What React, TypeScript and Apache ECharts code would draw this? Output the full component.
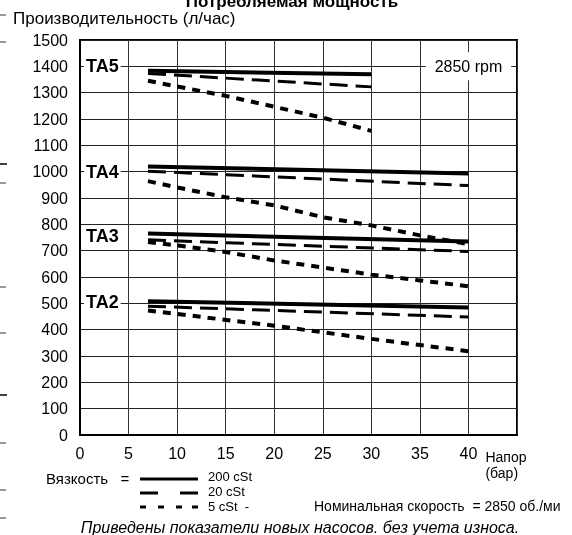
import React, { useEffect, useRef } from "react";
import * as echarts from "echarts";

// Head (bar) -> capacity (l/h) readings for each pump model and viscosity
const TA5_200 = [[7, 1383], [30, 1370]];
const TA5_20 = [[7, 1373], [30, 1322]];
const TA5_5 = [[7, 1345], [15, 1288], [25, 1205], [30, 1155]];
const TA4_200 = [[7, 1020], [40, 993]];
const TA4_20 = [[7, 1002], [40, 947]];
const TA4_5 = [[7, 964], [10, 940], [15, 903], [20, 872], [25, 827], [30, 796], [35, 758], [40, 725]];
const TA3_200 = [[7, 765], [40, 735]];
const TA3_20 = [[7, 741], [40, 697]];
const TA3_5 = [[7, 733], [10, 720], [15, 695], [20, 663], [25, 636], [30, 609], [35, 587], [40, 565]];
const TA2_200 = [[7, 508], [40, 484]];
const TA2_20 = [[7, 489], [40, 448]];
const TA2_5 = [[7, 473], [20, 415], [30, 365], [40, 318]];

const PUMP_NAMES = ["TA5", "TA4", "TA3", "TA2"];
const PUMP_LABEL_VALUES = [1400, 1000, 755, 505];
const VISCOSITIES = ["200 cSt", "20 cSt", "5 cSt"];
const X_MAX = 45;
const Y_MAX = 1500;

const TITLE = "Потребляемая мощность";
const Y_NAME = "Производительность (л/час)";
const X_NAME_1 = "Напор";
const X_NAME_2 = "(бар)";
const RPM_LABEL = "2850 rpm";
const VISC_LABEL = "Вязкость   =";
const NOMINAL = "Номинальная скорость  = 2850 об./ми";
const FOOTNOTE = "Приведены показатели новых насосов. без учета износа.";

const FONT = "Liberation Sans, Arial, Helvetica, sans-serif";

const STYLE_200 = { color: "#000", width: 4, type: "solid" as any };
const STYLE_20 = { color: "#000", width: 3, type: [18, 8] as any };
const STYLE_5 = { color: "#000", width: 4, type: [8, 7] as any };

function line(name: string, data: number[][], style: any) {
  return {
    name,
    type: "line",
    data,
    symbol: "none",
    lineStyle: style,
    z: 5,
    silent: true,
  };
}

export default function App() {
  const ref = useRef<HTMLDivElement>(null);
  useEffect(() => {
    if (!ref.current) return;
    const chart = echarts.init(ref.current, null, { renderer: "svg" });
    chart.setOption({
      animation: false,
      grid: {
        left: 80,
        right: 55,
        top: 40,
        bottom: 100,
        show: true,
        borderColor: "#000",
        borderWidth: 2,
      },
      xAxis: {
        type: "value",
        min: 0,
        max: X_MAX,
        interval: 5,
        axisLine: { show: true, lineStyle: { color: "#000", width: 2 } },
        axisTick: { show: false },
        splitLine: { show: true, lineStyle: { color: "#333", width: 1 } },
        axisLabel: {
          color: "#000",
          fontSize: 16,
          fontFamily: FONT,
          margin: 10,
          formatter: (v: number) => (v === X_MAX ? "" : String(v)),
        },
      },
      yAxis: {
        type: "value",
        min: 0,
        max: Y_MAX,
        interval: 100,
        axisLine: { show: true, lineStyle: { color: "#000", width: 2 } },
        axisTick: { show: false },
        splitLine: { show: true, lineStyle: { color: "#222", width: 1 } },
        axisLabel: {
          color: "#000",
          fontSize: 16,
          fontFamily: FONT,
          margin: 12,
          formatter: (v: number) => String(v),
        },
      },
      series: [
        line("TA5 " + VISCOSITIES[0], TA5_200, STYLE_200),
        line("TA5 " + VISCOSITIES[1], TA5_20, STYLE_20),
        line("TA5 " + VISCOSITIES[2], TA5_5, STYLE_5),
        line("TA4 " + VISCOSITIES[0], TA4_200, STYLE_200),
        line("TA4 " + VISCOSITIES[1], TA4_20, STYLE_20),
        line("TA4 " + VISCOSITIES[2], TA4_5, STYLE_5),
        line("TA3 " + VISCOSITIES[0], TA3_200, STYLE_200),
        line("TA3 " + VISCOSITIES[1], TA3_20, STYLE_20),
        line("TA3 " + VISCOSITIES[2], TA3_5, STYLE_5),
        line("TA2 " + VISCOSITIES[0], TA2_200, STYLE_200),
        line("TA2 " + VISCOSITIES[1], TA2_20, STYLE_20),
        line("TA2 " + VISCOSITIES[2], TA2_5, STYLE_5),
      ],
    });

    const graphics: any[] = [];
    PUMP_NAMES.forEach((n, i) => {
      const p = chart.convertToPixel({ gridIndex: 0 }, [0, PUMP_LABEL_VALUES[i]]) as number[];
      graphics.push({
        type: "text",
        x: p[0] + 4,
        y: p[1],
        z: 20,
        style: {
          text: n,
          font: `bold 18px ${FONT}`,
          fill: "#000",
          backgroundColor: "#fff",
          padding: [1, 2],
          align: "left",
          verticalAlign: "middle",
        },
      });
    });
    const rp = chart.convertToPixel({ gridIndex: 0 }, [40, 1400]) as number[];
    graphics.push({
      type: "text",
      x: rp[0],
      y: rp[1],
      z: 20,
      style: {
        text: RPM_LABEL,
        font: `16px ${FONT}`,
        fill: "#000",
        backgroundColor: "#fff",
        padding: [6, 9],
        align: "center",
        verticalAlign: "middle",
      },
    });
    const xEnd = chart.convertToPixel({ gridIndex: 0 }, [40, 0]) as number[];
    const txt = (text: string, x: number, y: number, font: string, align = "left", vAlign = "middle") => ({
      type: "text",
      x,
      y,
      z: 20,
      style: { text, font, fill: "#000", align, verticalAlign: vAlign },
    });
    graphics.push(txt(TITLE, 292, 10, `bold 17px ${FONT}`, "center", "bottom"));
    graphics.push(txt(Y_NAME, 13, 18, `17px ${FONT}`));
    graphics.push(txt(X_NAME_1, xEnd[0] + 17, 457, `14px ${FONT}`));
    graphics.push(txt(X_NAME_2, xEnd[0] + 17, 473, `14px ${FONT}`));
    graphics.push(txt(VISC_LABEL, 46, 478, `15px ${FONT}`));
    graphics.push(txt(VISCOSITIES[0], 208, 476, `13px ${FONT}`));
    graphics.push(txt(VISCOSITIES[1], 208, 491, `13px ${FONT}`));
    graphics.push(txt(VISCOSITIES[2] + "  -", 208, 506, `13px ${FONT}`));
    graphics.push(txt(NOMINAL, 314, 506, `14px ${FONT}`));
    graphics.push(txt(FOOTNOTE, 300, 527, `italic 16px ${FONT}`, "center"));

    const seg = (x1: number, y1: number, x2: number, y2: number, w: number, color = "#000") => ({
      type: "line",
      z: 20,
      shape: { x1, y1, x2, y2 },
      style: { stroke: color, lineWidth: w },
    });
    // legend samples
    graphics.push(seg(140, 479, 198, 479, 3));
    graphics.push(seg(140, 493, 158, 493, 3));
    graphics.push(seg(180, 493, 198, 493, 3));
    [140, 158, 176, 192].forEach((sx) => graphics.push(seg(sx, 507, sx + 6, 507, 3)));
    // scan edge marks
    const edgeMarks = [15, 42, 164, 183, 287, 333, 395, 443, 490, 518];
    edgeMarks.forEach((ey, i) =>
      graphics.push(seg(0, ey, i === 6 || i === 2 ? 7 : 6, ey, 1.5, i === 6 || i === 2 ? "#000" : "#777"))
    );

    chart.setOption({ graphic: graphics });
    return () => chart.dispose();
  }, []);
  return <div ref={ref} style={{ position: "fixed", left: 0, top: 0, width: 572, height: 535 }} />;
}
